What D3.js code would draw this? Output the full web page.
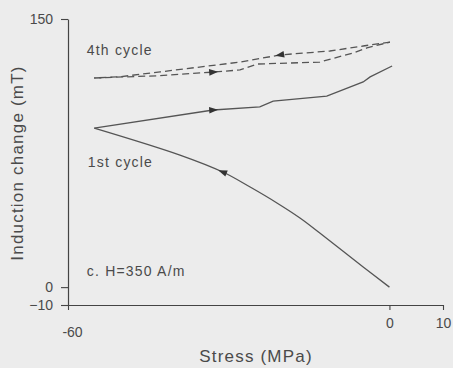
<!DOCTYPE html>
<html>
<head>
<meta charset="utf-8">
<script src="https://cdn.jsdelivr.net/npm/d3@7"></script>
<style>
  body { margin: 0; background: #ececec; }
  svg { display: block; }
  text { font-family: "Liberation Sans", Arial, sans-serif; fill: #4a4a4a; }
</style>
</head>
<body>
<div id="graph"></div>
<script>
// data (stress in MPa, induction change in mT)
var load1Stress = [0, -4.9, -13.0, -16.7, -21.0, -26.0, -31.1, -39.1, -55.1];
var load1Ind = [0, 11.3, 30.3, 38.7, 47.1, 56.0, 64.4, 73.9, 89.0];

var unload1Stress = [-55.1, -32.9, -24.2, -21.7, -11.7, -4.9, -3.6, 0.5];
var unload1Ind = [89.0, 99.1, 100.8, 104.1, 106.9, 114.8, 117.6, 123.7];

var load4Stress = [0.1, -4.9, -11.1, -20.4, -27.9, -42.8, -50.3, -55.1];
var load4Ind = [137.1, 134.9, 132.1, 129.9, 125.9, 120.4, 117.7, 117.0];

var unload4Stress = [-55.1, -42.8, -32.9, -27.9, -24.7, -13.0, -6.8, -4.2, 0.1];
var unload4Ind = [117.0, 118.3, 120.3, 121.5, 124.8, 125.9, 131.0, 133.8, 137.1];

// index of the vertex that carries the direction arrow
var arrowIndex = [6, 1, 3, 2];

var xTicks = [-60, 0, 10];
var yTicks = [-10, 0, 150];

var labels = ["4th cycle", "1st cycle", "c. H=350 A/m"];
var labelPos = [[-56.5, 130], [-56.3, 67], [-56.5, 6.5]];

function zip(a, b) {
    return a.map(function (v, i) { return {x: v, y: b[i]}; });
}

var series = [
    {pts: zip(load1Stress, load1Ind), dash: null, smooth: true},
    {pts: zip(unload1Stress, unload1Ind), dash: null, smooth: false},
    {pts: zip(load4Stress, load4Ind), dash: "7,4", smooth: false},
    {pts: zip(unload4Stress, unload4Ind), dash: "7,4", smooth: false}
];

var W = 453, H = 368;

var svg = d3.select("div#graph")
  .append("svg")
  .attr("width", W)
  .attr("height", H);

var x = d3.scaleLinear().domain([-60, 10]).range([68, 443]);
var y = d3.scaleLinear().domain([-10, 150]).range([305, 19]);

var minus = function (d) { return d < 0 ? "\u2212" + (-d) : "" + d; };

// X axis
var gx = svg.append("g")
    .attr("transform", "translate(0," + y(-10) + ")")
    .call(d3.axisBottom(x).tickValues(xTicks).tickSize(5).tickSizeOuter(0)
        .tickFormat(function (d) { return d < 0 ? "-" + (-d) : "" + d; }));
gx.select(".domain").attr("stroke", "#444").attr("stroke-width", 1.2);
gx.selectAll(".tick line").attr("stroke", "#444").attr("stroke-width", 1.1);
gx.selectAll(".tick text")
    .attr("dy", 0)
    .attr("y", function (d) { return d === -60 ? 32 : 23; })
    .attr("x", function (d) { return d === -60 ? 4 : 0; })
    .style("font-size", "14px")
    .style("fill", "#4a4a4a");

// Y axis
var gy = svg.append("g")
    .attr("transform", "translate(" + x(-60) + ",0)")
    .call(d3.axisLeft(y).tickValues(yTicks).tickSize(7).tickSizeOuter(0).tickFormat(minus));
gy.select(".domain").attr("stroke", "#444").attr("stroke-width", 1.2);
gy.selectAll(".tick line").attr("stroke", "#444").attr("stroke-width", 1.1);
gy.selectAll(".tick text")
    .attr("x", -15)
    .style("font-size", "14px")
    .style("fill", "#4a4a4a");

// axis titles
svg.append("text")
    .attr("x", 256)
    .attr("y", 362)
    .attr("text-anchor", "middle")
    .style("font-size", "17px")
    .style("letter-spacing", "1.2px")
    .text("Stress (MPa)");

svg.append("text")
    .attr("transform", "translate(23,163) rotate(-90)")
    .attr("text-anchor", "middle")
    .style("font-size", "17px")
    .style("letter-spacing", "1.2px")
    .text("Induction change (mT)");

// curves
var line = d3.line()
    .x(function (d) { return x(d.x); })
    .y(function (d) { return y(d.y); });
var smoothLine = d3.line()
    .curve(d3.curveCatmullRom.alpha(0.5))
    .x(function (d) { return x(d.x); })
    .y(function (d) { return y(d.y); });

svg.selectAll(".curve")
    .data(series)
    .enter()
    .append("path")
    .attr("class", "curve")
    .attr("d", function (d) { return d.smooth ? smoothLine(d.pts) : line(d.pts); })
    .attr("fill", "none")
    .attr("stroke", "#555")
    .attr("stroke-width", 1.3)
    .attr("stroke-dasharray", function (d) { return d.dash; });

// direction arrows
svg.selectAll(".arrow")
    .data(series)
    .enter()
    .append("path")
    .attr("class", "arrow")
    .attr("d", "M5,0 L-4,-3.3 L-4,3.3 Z")
    .attr("fill", "#333")
    .attr("transform", function (d, i) {
        var p = d.pts[arrowIndex[i]], q = d.pts[arrowIndex[i] + 1];
        var a = Math.atan2(y(q.y) - y(p.y), x(q.x) - x(p.x)) * 180 / Math.PI;
        return "translate(" + x(p.x) + "," + y(p.y) + ") rotate(" + a + ")";
    });

// annotations
svg.selectAll(".label")
    .data(labels)
    .enter()
    .append("text")
    .attr("class", "label")
    .attr("x", function (d, i) { return x(labelPos[i][0]); })
    .attr("y", function (d, i) { return y(labelPos[i][1]); })
    .style("font-size", "14px")
    .style("letter-spacing", "1.2px")
    .text(function (d) { return d; });
</script>
</body>
</html>
